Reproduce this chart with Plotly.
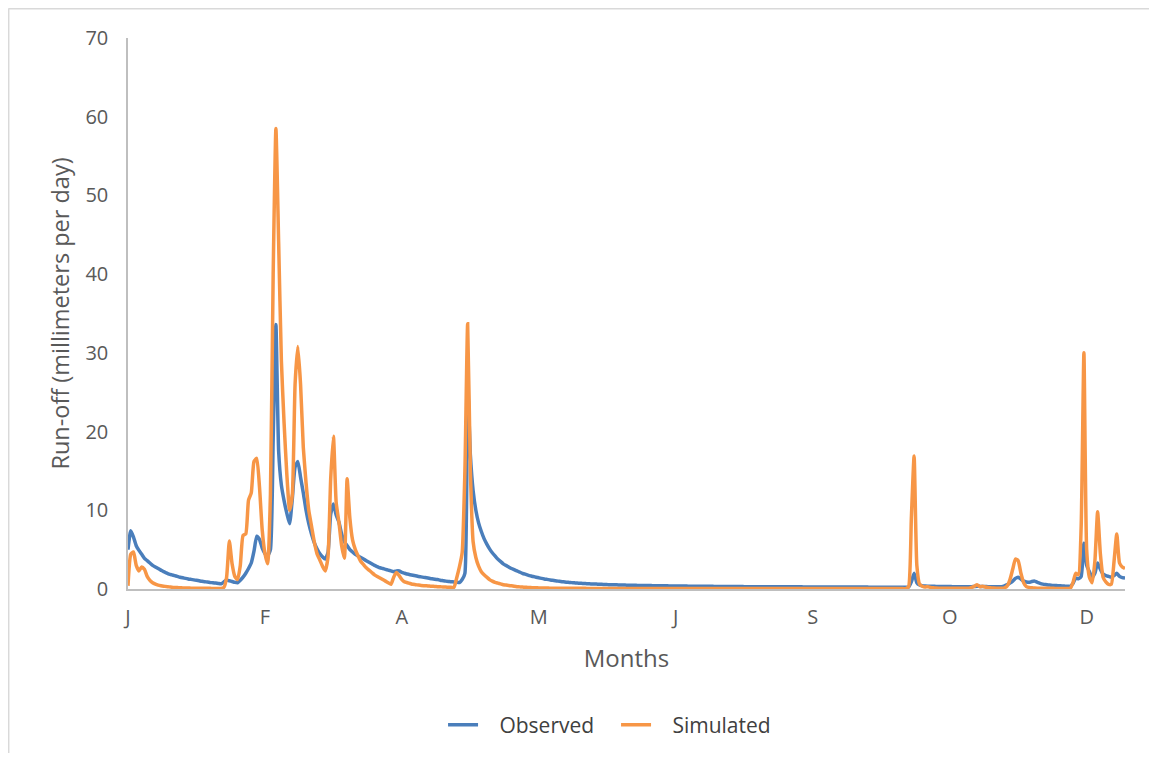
import plotly.graph_objects as go

# ---- data (daily run-off, mm/day), day 0 = 1 Jan ----
days = list(range(365))
tick_days = [0, 50, 100, 150, 200, 250, 300, 350]
tick_labels = ["J", "F", "A", "M", "J", "S", "O", "D"]

observed = (
    [5.0, 7.4, 6.6, 5.5, 4.9, 4.4, 3.9, 3.6, 3.3, 3.0]
    + [2.8, 2.6, 2.4, 2.2, 2.05, 1.9, 1.8, 1.7, 1.6, 1.5]
    + [1.42, 1.35, 1.28, 1.22, 1.16, 1.1, 1.04, 0.98, 0.93, 0.88]
    + [0.83, 0.79, 0.75, 0.7, 0.66, 0.9, 1.15, 1.05, 0.95, 0.85]
    + [0.8, 1.1, 1.5, 2.0, 2.6, 3.3, 4.8, 6.7, 6.3, 5.2]
    + [4.5, 4.2, 5.0, 19.0, 33.6, 17.5, 13.2, 11.2, 9.6, 8.3]
    + [11.5, 15.5, 16.2, 14.2, 12.2, 10.0, 8.3, 7.0, 5.9, 5.1]
    + [4.5, 4.1, 3.8, 4.6, 9.5, 10.8, 9.4, 8.5, 7.0, 6.0]
    + [5.5, 5.0, 4.7, 4.4, 4.2, 4.0, 3.8, 3.6, 3.4, 3.2]
    + [3.0, 2.85, 2.7, 2.6, 2.5, 2.4, 2.3, 2.2, 2.3, 2.3]
    + [2.1, 2.0, 1.9, 1.82, 1.75, 1.68, 1.6, 1.54, 1.48, 1.42]
    + [1.36, 1.3, 1.25, 1.2, 1.12, 1.06, 1.0, 0.96, 0.92, 0.9]
    + [0.86, 0.82, 1.2, 2.0, 26.0, 17.0, 12.5, 10.0, 8.4, 7.3]
    + [6.4, 5.7, 5.1, 4.6, 4.2, 3.8, 3.5, 3.2, 3.0, 2.8]
    + [2.6, 2.45, 2.3, 2.15, 2.0, 1.88, 1.77, 1.67, 1.58, 1.5]
    + [1.42, 1.35, 1.28, 1.22, 1.16, 1.1, 1.05, 1.0, 0.95, 0.91]
    + [0.87, 0.84, 0.81, 0.78, 0.75, 0.73, 0.71, 0.69, 0.67, 0.65]
    + [0.63, 0.62, 0.6, 0.59, 0.58, 0.56, 0.55, 0.54, 0.53, 0.52]
    + [0.51, 0.5, 0.49, 0.48, 0.47, 0.47, 0.46, 0.45, 0.45, 0.44]
    + [0.43, 0.43, 0.42, 0.42, 0.41, 0.41, 0.4, 0.4, 0.39, 0.39]
    + [0.38, 0.38, 0.37, 0.37, 0.37, 0.36, 0.36, 0.36, 0.35, 0.35]
    + [0.35, 0.34, 0.34, 0.34, 0.33, 0.33, 0.33, 0.32, 0.32, 0.32]
    + [0.32, 0.31, 0.31, 0.31, 0.31, 0.3, 0.3, 0.3, 0.3, 0.3]
    + [0.29, 0.29, 0.29, 0.29, 0.29, 0.28, 0.28, 0.28, 0.28, 0.28]
    + [0.28, 0.27, 0.27, 0.27, 0.27, 0.27, 0.27, 0.26, 0.26, 0.26]
    + [0.26, 0.26, 0.26, 0.26, 0.25, 0.25, 0.25, 0.25, 0.25, 0.25]
    + [0.25, 0.25, 0.24, 0.24, 0.24, 0.24, 0.24, 0.24, 0.24, 0.24]
    + [0.24, 0.23, 0.23, 0.23, 0.23, 0.23, 0.23, 0.23, 0.23, 0.23]
    + [0.23, 0.22, 0.22, 0.22, 0.22, 0.25, 0.9, 2.0, 0.8, 0.5]
    + [0.42, 0.38, 0.36, 0.35, 0.34, 0.33, 0.33, 0.32, 0.32, 0.31]
    + [0.31, 0.3, 0.3, 0.3, 0.29, 0.29, 0.29, 0.29, 0.3, 0.32]
    + [0.35, 0.33, 0.32, 0.31, 0.3, 0.3, 0.29, 0.29, 0.29, 0.3]
    + [0.4, 0.55, 0.75, 1.0, 1.35, 1.5, 1.25, 1.0, 0.9, 0.85]
    + [0.95, 1.0, 0.85, 0.72, 0.62, 0.56, 0.52, 0.48, 0.45, 0.43]
    + [0.41, 0.39, 0.37, 0.36, 0.35, 0.7, 1.4, 1.3, 1.6, 5.8]
    + [3.0, 2.2, 1.5, 2.0, 3.3, 2.5, 1.9, 1.7, 1.6, 1.5]
    + [1.7, 2.0, 1.6, 1.45, 1.4]
)

simulated = (
    [0.4, 4.4, 4.7, 3.0, 2.3, 2.8, 2.5, 1.6, 1.1, 0.8]
    + [0.62, 0.5, 0.42, 0.36, 0.31, 0.27, 0.23, 0.2, 0.18, 0.16]
    + [0.14, 0.13, 0.12, 0.11, 0.1, 0.1, 0.09, 0.09, 0.08, 0.08]
    + [0.08, 0.07, 0.07, 0.07, 0.07, 0.2, 1.5, 6.1, 3.2, 1.6]
    + [1.2, 3.0, 6.8, 7.0, 11.3, 12.2, 16.2, 16.6, 13.0, 7.5]
    + [4.5, 3.2, 12.0, 40.0, 58.5, 44.0, 29.0, 21.0, 14.5, 10.0]
    + [12.0, 26.0, 30.8, 26.0, 18.0, 13.5, 10.0, 8.0, 6.0, 4.5]
    + [3.7, 2.9, 2.3, 4.0, 14.0, 19.4, 11.0, 8.5, 5.5, 3.9]
    + [14.0, 9.0, 6.2, 5.0, 4.2, 3.5, 3.1, 2.7, 2.4, 2.1]
    + [1.8, 1.6, 1.4, 1.2, 1.0, 0.8, 0.6, 1.5, 2.1, 1.7]
    + [1.2, 0.9, 0.8, 0.7, 0.6, 0.55, 0.5, 0.45, 0.42, 0.4]
    + [0.37, 0.35, 0.33, 0.3, 0.28, 0.26, 0.24, 0.22, 0.21, 0.2]
    + [1.4, 2.8, 4.6, 15.0, 33.7, 15.0, 6.0, 4.0, 2.9, 2.2]
    + [1.8, 1.5, 1.2, 1.0, 0.85, 0.75, 0.65, 0.55, 0.5, 0.45]
    + [0.4, 0.35, 0.3, 0.27, 0.24, 0.22, 0.2, 0.18, 0.16, 0.15]
    + [0.14, 0.13, 0.12, 0.12, 0.11, 0.11, 0.1, 0.1, 0.1, 0.09]
    + [0.09, 0.09, 0.09, 0.08, 0.08, 0.08, 0.08, 0.08, 0.07, 0.07]
    + [0.07, 0.07, 0.07, 0.07, 0.07, 0.06, 0.06, 0.06, 0.06, 0.06]
    + [0.06, 0.06, 0.06, 0.06, 0.06, 0.06, 0.06, 0.06, 0.06, 0.06]
    + [0.06, 0.06, 0.06, 0.06, 0.06, 0.05, 0.05, 0.05, 0.05, 0.05]
    + [0.05, 0.05, 0.05, 0.05, 0.05, 0.05, 0.05, 0.05, 0.05, 0.05]
    + [0.05, 0.05, 0.05, 0.05, 0.05, 0.05, 0.05, 0.05, 0.05, 0.05]
    + [0.05, 0.05, 0.05, 0.05, 0.05, 0.05, 0.05, 0.05, 0.05, 0.05]
    + [0.05, 0.05, 0.05, 0.05, 0.05, 0.05, 0.05, 0.05, 0.05, 0.05]
    + [0.05, 0.05, 0.05, 0.05, 0.05, 0.05, 0.05, 0.05, 0.05, 0.05]
    + [0.05, 0.05, 0.05, 0.05, 0.05, 0.05, 0.05, 0.05, 0.05, 0.05]
    + [0.05, 0.05, 0.05, 0.05, 0.05, 0.05, 0.05, 0.05, 0.05, 0.05]
    + [0.05, 0.05, 0.05, 0.05, 0.05, 0.05, 0.05, 0.05, 0.05, 0.05]
    + [0.05, 0.05, 0.05, 0.05, 0.05, 0.3, 9.0, 16.9, 3.0, 0.6]
    + [0.35, 0.25, 0.3, 0.2, 0.15, 0.12, 0.1, 0.1, 0.1, 0.09]
    + [0.09, 0.09, 0.08, 0.08, 0.08, 0.08, 0.08, 0.1, 0.2, 0.35]
    + [0.55, 0.3, 0.35, 0.25, 0.18, 0.15, 0.12, 0.1, 0.1, 0.1]
    + [0.15, 0.4, 1.2, 2.5, 3.8, 3.6, 2.0, 0.8, 0.3, 0.2]
    + [0.15, 0.12, 0.1, 0.1, 0.09, 0.09, 0.08, 0.08, 0.08, 0.07]
    + [0.07, 0.07, 0.07, 0.07, 0.07, 0.8, 2.0, 1.8, 8.0, 30.0]
    + [5.0, 1.5, 0.8, 3.5, 9.8, 4.5, 1.5, 0.9, 0.6, 0.6]
    + [3.5, 7.0, 3.3, 2.8, 2.6]
)

y_ticks = [0, 10, 20, 30, 40, 50, 60, 70]

BLUE = "#4A7EBB"
ORANGE = "#F79646"
TEXT = "#595959"
AXIS = "#BFBFBF"
FONT = "Open Sans"
PAD = "\u00a0\u00a0\u00a0"

fig = go.Figure()
fig.add_trace(go.Scatter(x=days, y=observed, mode="lines", name=PAD + "Observed",
                         line=dict(color=BLUE, width=3.5, shape="spline", smoothing=0.5)))
fig.add_trace(go.Scatter(x=days, y=simulated, mode="lines", name=PAD + "Simulated",
                         line=dict(color=ORANGE, width=3.5, shape="spline", smoothing=0.5)))

fig.update_layout(
    width=1149, height=755,
    margin=dict(l=120, r=32, t=30, b=174),
    paper_bgcolor="white", plot_bgcolor="white",
    font=dict(family=FONT, color=TEXT, size=20),
    showlegend=True,
    legend=dict(orientation="h", x=0.316, xanchor="left", y=-0.247, yanchor="middle",
                font=dict(size=21, color="#404040"), traceorder="normal",
                itemwidth=30, entrywidth=128, entrywidthmode="pixels"),
    xaxis=dict(range=[0, 364], tickvals=tick_days, ticktext=tick_labels,
               showgrid=False, zeroline=False, showline=True, linecolor=AXIS, linewidth=1.5,
               ticks="", ticklabelstandoff=9, tickfont=dict(size=20, color=TEXT),
               title=dict(text="Months", font=dict(size=24, color=TEXT), standoff=21)),
    yaxis=dict(range=[0, 70], tickvals=y_ticks,
               showgrid=False, zeroline=False, showline=True, linecolor=AXIS, linewidth=1.5,
               ticks="", ticklabelstandoff=14, tickfont=dict(size=20, color=TEXT),
               title=dict(text="Run-off (millimeters per day)", font=dict(size=23.5, color=TEXT),
                          standoff=9)),
    shapes=[
        dict(type="line", xref="paper", yref="paper", x0=-0.1199, x1=-0.1199,
             y0=1.0535, y1=-0.2976, line=dict(color="#D9D9D9", width=2)),
        dict(type="line", xref="paper", yref="paper", x0=-0.1199, x1=1.04,
             y0=1.0535, y1=1.0535, line=dict(color="#D9D9D9", width=2)),
    ],
)

fig.write_html("out.html")
